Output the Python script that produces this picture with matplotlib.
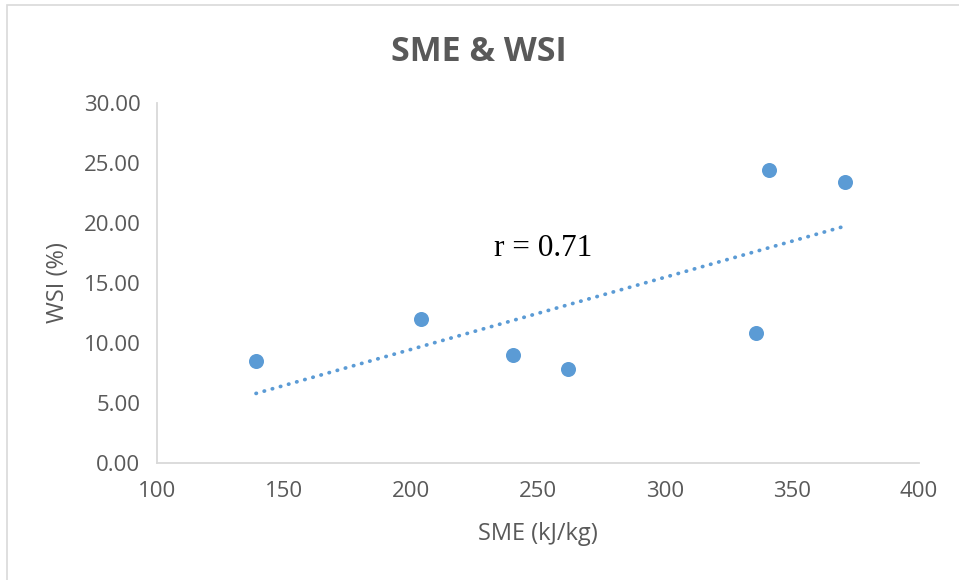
import numpy as np
import matplotlib
matplotlib.use("Agg")
import matplotlib.pyplot as plt
from matplotlib.patches import Rectangle

sme = [139, 204, 240, 262, 336, 341, 371]
wsi = [8.5, 12.0, 9.0, 7.8, 10.8, 24.4, 23.4]
x_ticks = [100, 150, 200, 250, 300, 350, 400]
y_ticks = [0, 5, 10, 15, 20, 25, 30]
title = "SME & WSI"
xlabel = "SME (kJ/kg)"
ylabel = "WSI (%)"
r_label = "r = 0.71"

blue = "#5B9BD5"
grey = "#595959"
light = "#D9D9D9"

plt.rcParams['font.family'] = ['Open Sans', 'DejaVu Sans']

fig = plt.figure(figsize=(9.59, 5.8), dpi=100)
fig.patches.append(Rectangle((0.0073, -0.1), 1.2, 0.9914 + 0.1, transform=fig.transFigure,
                             fill=False, edgecolor=light, linewidth=1.2))
ax = fig.add_axes([0.1637, 0.2017, 0.7945, 0.6207])

ax.scatter(sme, wsi, s=117, color=blue, zorder=3, linewidths=0)

coef = np.polyfit(sme, wsi, 1)
xs = np.array([min(sme), max(sme)])
ax.plot(xs, np.polyval(coef, xs), color=blue, linewidth=2.7,
        linestyle=(0, (0.1, 2.15)), dash_capstyle='round', zorder=2)

ax.text(252, 17.9, r_label, family=['Liberation Serif'], fontsize=22.5,
        ha='center', va='center', color='black')

ax.set_xlim(100, 400)
ax.set_ylim(0, 30)
ax.set_xticks(x_ticks)
ax.set_yticks(y_ticks)
ax.set_yticklabels([f"{v:.2f}" for v in y_ticks])
ax.tick_params(length=0, labelsize=16, colors=grey)
ax.tick_params(axis='y', pad=12)
ax.tick_params(axis='x', pad=13)
for side in ['top', 'right']:
    ax.spines[side].set_visible(False)
for side in ['left', 'bottom']:
    ax.spines[side].set_color(light)
    ax.spines[side].set_linewidth(1.3)

ax.set_xlabel(xlabel, fontsize=17, color=grey, labelpad=14)
ax.set_ylabel(ylabel, fontsize=17, color=grey, labelpad=10)
fig.text(0.4995, 0.911, title, fontsize=24.5, fontweight='bold', color=grey,
         ha='center', va='center')

fig.savefig("out.png", dpi=100)
